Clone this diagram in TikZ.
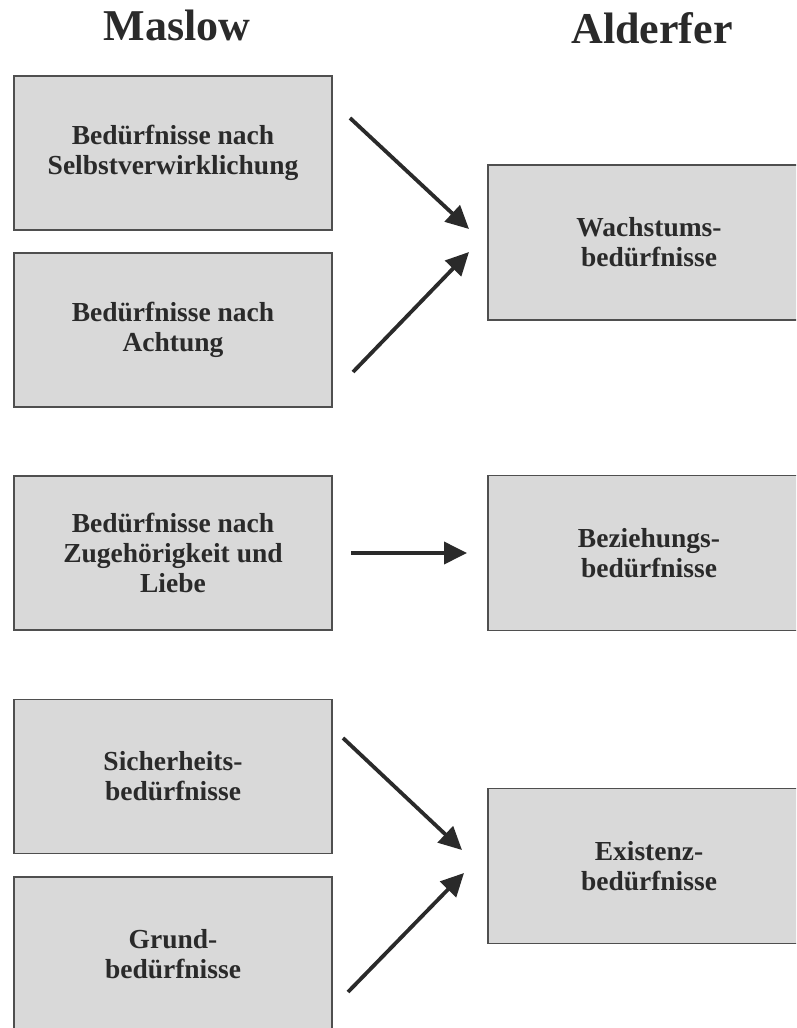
\documentclass[tikz,border=0pt]{standalone}
\usepackage{fontspec}
\setmainfont{Liberation Serif}
\usetikzlibrary{arrows.meta}
\definecolor{boxfill}{HTML}{D9D9D9}
\definecolor{boxline}{HTML}{4F4F4F}
\definecolor{ink}{HTML}{2A2A2A}
\begin{document}
\begin{tikzpicture}[x=1pt,y=-1pt,
  need/.style={draw=boxline,line width=1.3pt,fill=boxfill,inner sep=0pt,
    text=ink,font=\fontsize{27.5}{30}\selectfont\bfseries,align=center},
  leftbox/.style={need,minimum width=318pt,minimum height=154pt},
  rightbox/.style={need,minimum width=322pt,minimum height=155pt},
  heading/.style={text=ink,font=\fontsize{44}{48}\selectfont\bfseries,anchor=base},
  link/.style={draw=ink,line width=3.8pt,-{Triangle[length=23pt,width=22pt]}}]
\useasboundingbox (0,0) rectangle (796,1028);
\clip (0,0) rectangle (796,1028);

% column headings
\node[heading] (maslow) at (177,40) {Maslow};
\node[heading] (alderfer) at (652,43) {Alderfer};

% Maslow's hierarchy
\node[leftbox] (self) at (173,153) {Bedürfnisse nach\\Selbstverwirklichung};
\node[leftbox] (esteem) at (173,330) {Bedürfnisse nach\\Achtung};
\node[leftbox] (love) at (173,553) {Bedürfnisse nach\\Zugehörigkeit und\\Liebe};
\node[leftbox] (safety) at (173,776.5) {Sicherheits-\\bedürfnisse};
\node[leftbox] (basic) at (173,954) {Grund-\\bedürfnisse};

% Alderfer's ERG categories
\node[rightbox] (growth) at (649,242.5) {Wachstums-\\bedürfnisse};
\node[rightbox] (related) at (649,553) {Beziehungs-\\bedürfnisse};
\node[rightbox] (exist) at (649,866) {Existenz-\\bedürfnisse};

% arrow end points between the columns
\coordinate (s1) at (350,118);  \coordinate (t1) at (469,229);
\coordinate (s2) at (353,372);  \coordinate (t2) at (469,252);
\coordinate (s3) at (351,553);  \coordinate (t3) at (467,553);
\coordinate (s4) at (343,738);  \coordinate (t4) at (462,850);
\coordinate (s5) at (348,992);  \coordinate (t5) at (464,873);

\draw[link] (s1) -- (t1);
\draw[link] (s2) -- (t2);
\draw[link] (s3) -- (t3);
\draw[link] (s4) -- (t4);
\draw[link] (s5) -- (t5);
\end{tikzpicture}
\end{document}
